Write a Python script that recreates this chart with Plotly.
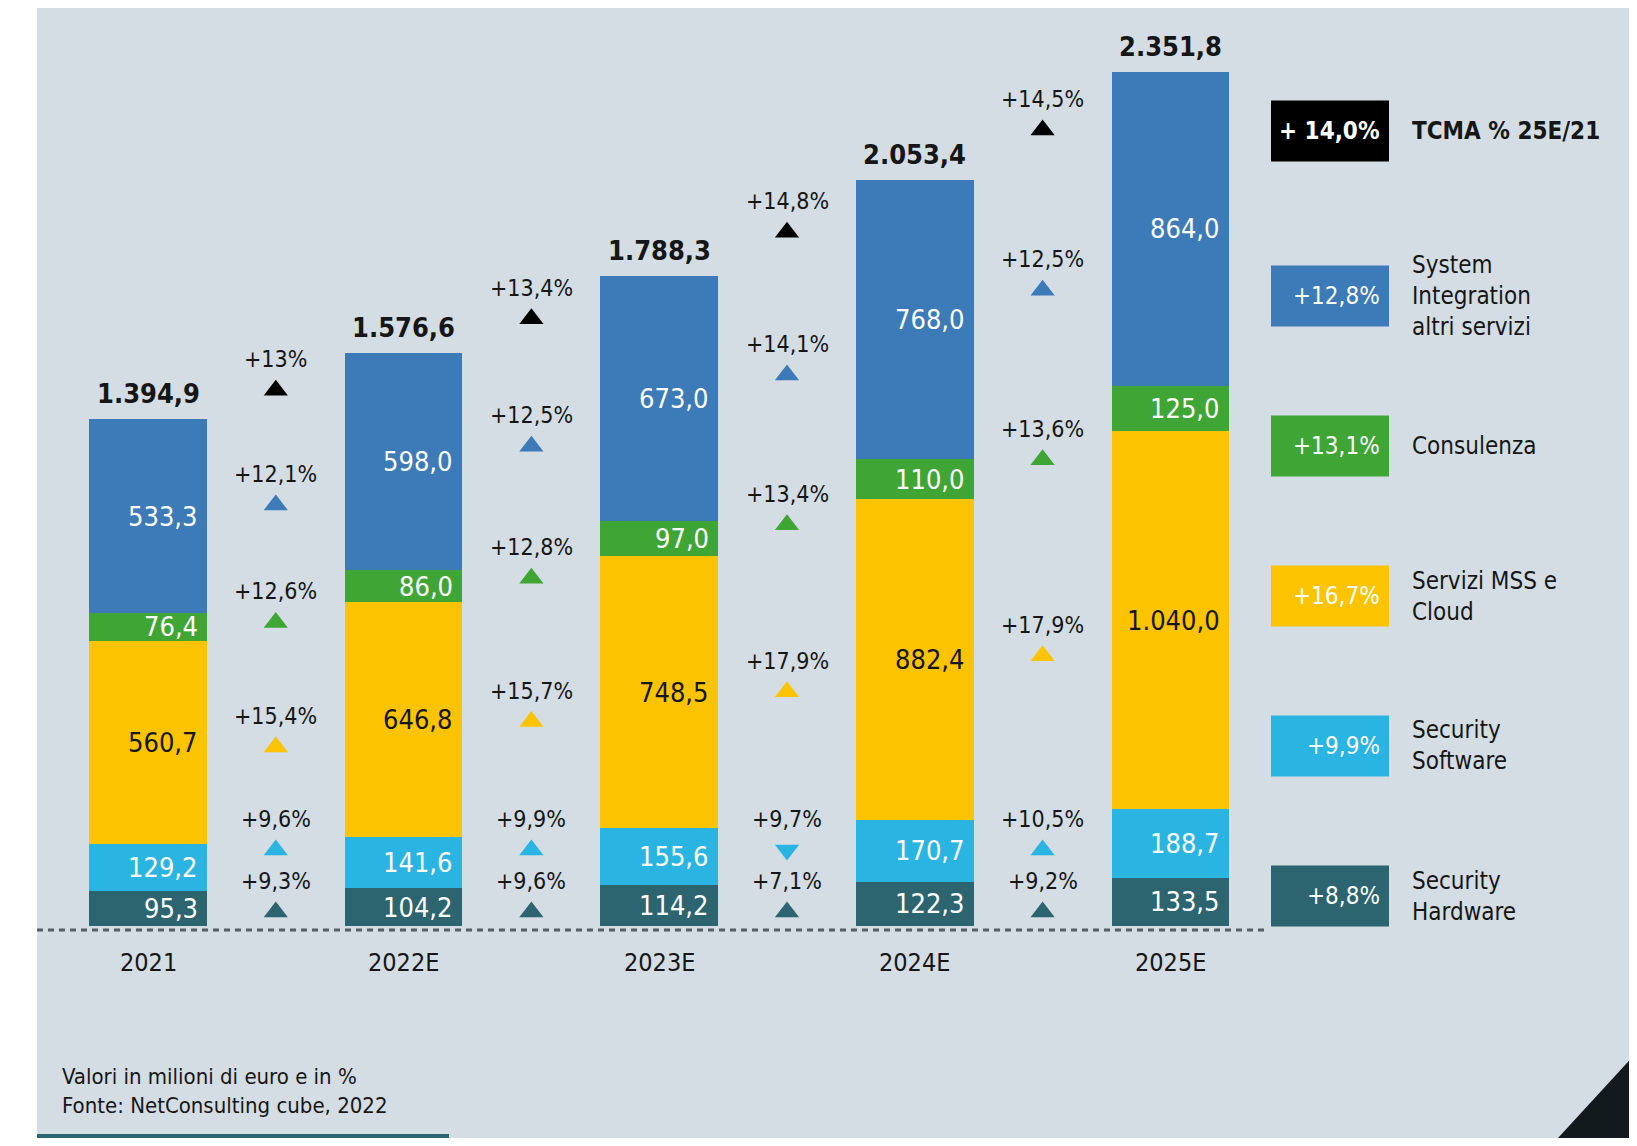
import plotly.graph_objects as go

# --- dati ---------------------------------------------------------------
anni = ["2021", "2022E", "2023E", "2024E", "2025E"]

serie = ["Security Hardware", "Security Software", "Servizi MSS e Cloud",
         "Consulenza", "System Integration altri servizi"]
etichette_legenda = ["Security<br>Hardware", "Security<br>Software",
                     "Servizi MSS e<br>Cloud", "Consulenza",
                     "System<br>Integration<br>altri servizi"]

hardware = [95.3, 104.2, 114.2, 122.3, 133.5]
software = [129.2, 141.6, 155.6, 170.7, 188.7]
mss_cloud = [560.7, 646.8, 748.5, 882.4, 1040.0]
consulenza = [76.4, 86.0, 97.0, 110.0, 125.0]
system_int = [533.3, 598.0, 673.0, 768.0, 864.0]
totali = [1394.9, 1576.6, 1788.3, 2053.4, 2351.8]

var_hardware = ["+9,3%", "+9,6%", "+7,1%", "+9,2%"]
var_software = ["+9,6%", "+9,9%", "+9,7%", "+10,5%"]
var_mss = ["+15,4%", "+15,7%", "+17,9%", "+17,9%"]
var_consulenza = ["+12,6%", "+12,8%", "+13,4%", "+13,6%"]
var_system = ["+12,1%", "+12,5%", "+14,1%", "+12,5%"]
var_totale = ["+13%", "+13,4%", "+14,8%", "+14,5%"]
dir_software = ["up", "up", "down", "up"]

tcma_serie = ["+8,8%", "+9,9%", "+16,7%", "+13,1%", "+12,8%"]
tcma_totale = "+ 14,0%"

# --- stile --------------------------------------------------------------
# la pagina html ha un margine di 8 px: la figura parte da (8, 8)
OFF = 8
FW, FH = 1637 - OFF, 1146 - 2 * OFF
FONT = "Liberation Sans Narrow, DejaVu Sans Condensed, Arial Narrow, sans-serif"
SFONDO = "#d3dde3"
NERO = "#161616"
colori = ["#2c6470", "#2ab4e2", "#fcc400", "#3fa535", "#3c7ab8"]
colori_testo = ["white", "white", NERO, "white", "white"]

BASE_PX = 926      # base delle barre (pixel di pagina)
PX = 0.3633        # pixel per milione di euro
X0_PX, PASSO_PX = 148, 255.6
LARG = 0.46

y_max = (BASE_PX - OFF) / PX
y_min = (BASE_PX - (OFF + FH)) / PX
x_min = (OFF - X0_PX) / PASSO_PX
x_max = (OFF + FW - X0_PX) / PASSO_PX


def fmt(v):
    s = f"{v:,.1f}"
    return s.replace(",", "X").replace(".", ",").replace("X", ".")


def px_to_y(p):
    return (BASE_PX - p) / PX


def y_to_px(y):
    return BASE_PX - y * PX


def xp(p):
    return (p - OFF) / FW


def yp(p):
    return 1 - (p - OFF) / FH


valori = [hardware, software, mss_cloud, consulenza, system_int]
variazioni = [var_hardware, var_software, var_mss, var_consulenza, var_system]
x = list(range(len(anni)))

fig = go.Figure()
annotazioni = []

# barre impilate
basi = [0.0] * len(anni)
medi = []
for k, nome in enumerate(serie):
    fig.add_trace(go.Bar(x=x, y=valori[k], base=basi, width=LARG, name=nome,
                         marker=dict(color=colori[k], line=dict(width=0)),
                         showlegend=False))
    medi.append([b + v / 2 for b, v in zip(basi, valori[k])])
    for i, v in enumerate(valori[k]):
        annotazioni.append(dict(
            x=i + LARG / 2, y=basi[i] + v / 2, xref="x", yref="y",
            text=fmt(v), showarrow=False, xanchor="right", yanchor="middle",
            xshift=-7, font=dict(family=FONT, size=27, color=colori_testo[k])))
    basi = [b + v for b, v in zip(basi, valori[k])]

# totali
for i, t in enumerate(totali):
    annotazioni.append(dict(
        x=i, y=basi[i], xref="x", yref="y", text=f"<b>{fmt(t)}</b>",
        showarrow=False, yanchor="bottom", yshift=8,
        font=dict(family=FONT, size=27, color=NERO)))

# variazioni annue: centro del gruppo = media dei punti medi adiacenti
centri_px = []
for k in range(len(serie)):
    riga = []
    for j in range(len(anni) - 1):
        c = y_to_px((medi[k][j] + medi[k][j + 1]) / 2)
        if k == 0:
            c = min(c, BASE_PX - 30)
        else:
            c = min(c, centri_px[k - 1][j] - 62)
        riga.append(c)
    centri_px.append(riga)

centri_tot = [(y_to_px(basi[j]) + y_to_px(basi[j + 1])) / 2 - 12
              for j in range(len(anni) - 1)]

gruppi = [(variazioni[k], centri_px[k], colori[k],
           dir_software if k == 1 else ["up"] * 4) for k in range(len(serie))]
gruppi.append((var_totale, centri_tot, "#000000", ["up"] * 4))

xm = [j + 0.5 for j in range(len(anni) - 1)]
for testi, centri, col, direzioni in gruppi:
    fig.add_trace(go.Scatter(
        x=xm, y=[px_to_y(c + 16) for c in centri], mode="markers",
        marker=dict(symbol=["triangle-up" if d == "up" else "triangle-down"
                            for d in direzioni], size=21, color=col,
                    line=dict(width=0)),
        showlegend=False, cliponaxis=False, hoverinfo="skip"))
    for j, t in enumerate(testi):
        annotazioni.append(dict(
            x=xm[j], y=px_to_y(centri[j] - 15), xref="x", yref="y", text=t,
            showarrow=False, yanchor="middle",
            font=dict(family=FONT, size=23, color=NERO)))

# anni
for i, a in enumerate(anni):
    annotazioni.append(dict(
        x=i, y=0, xref="x", yref="y", text=a, showarrow=False,
        yanchor="top", yshift=-20, font=dict(family=FONT, size=25, color=NERO)))

forme = [
    # pannello di sfondo
    dict(type="rect", xref="paper", yref="paper", x0=xp(37), x1=1,
         y0=0, y1=1, fillcolor=SFONDO, line=dict(width=0), layer="below"),
    # linea di base tratteggiata
    dict(type="line", xref="paper", yref="y", x0=xp(37), x1=xp(1266),
         y0=px_to_y(BASE_PX + 4), y1=px_to_y(BASE_PX + 4),
         line=dict(color="#555f66", width=3, dash="6px,5px")),
    # filetto in basso a sinistra
    dict(type="line", xref="paper", yref="paper", x0=xp(37), x1=xp(449),
         y0=2 / FH, y1=2 / FH, line=dict(color="#2c6470", width=4)),
    # triangolo scuro in basso a destra
    dict(type="path", xref="paper", yref="paper",
         path=f"M {xp(1558)},0 L 1,{yp(1052)} L 1,0 Z",
         fillcolor="#121a1e", line=dict(width=0)),
]

# legenda con TCMA
BX0, BX1, BH = 1271, 1389, 61


def riga_legenda(cy, colore, tcma, etichetta, grassetto=False):
    forme.append(dict(type="rect", xref="paper", yref="paper",
                      x0=xp(BX0), x1=xp(BX1),
                      y0=yp(cy + BH / 2), y1=yp(cy - BH / 2),
                      fillcolor=colore, line=dict(width=0)))
    annotazioni.append(dict(
        x=xp(BX1 - 7), y=yp(cy), xref="paper", yref="paper",
        text=f"<b>{tcma}</b>" if grassetto else tcma, showarrow=False,
        xanchor="right", yanchor="middle",
        font=dict(family=FONT, size=24, color="white")))
    annotazioni.append(dict(
        x=xp(1410), y=yp(cy), xref="paper", yref="paper",
        text=f"<b>{etichetta}</b>" if grassetto else etichetta,
        showarrow=False, xanchor="left", yanchor="middle", align="left",
        font=dict(family=FONT, size=24, color=NERO)))


riga_legenda(131, "#000000", tcma_totale, "TCMA % 25E/21", grassetto=True)
for k in range(len(serie)):
    riga_legenda(896 - 150 * k, colori[k], tcma_serie[k], etichette_legenda[k])

# note
annotazioni.append(dict(
    x=xp(60), y=yp(1091), xref="paper", yref="paper",
    text="Valori in milioni di euro e in %<br>Fonte: NetConsulting cube, 2022",
    showarrow=False, xanchor="left", yanchor="middle", align="left",
    font=dict(family=FONT, size=22, color=NERO)))

fig.update_layout(
    width=FW, height=FH, margin=dict(l=0, r=0, t=0, b=0),
    paper_bgcolor="white", plot_bgcolor="rgba(0,0,0,0)",
    barmode="overlay", bargap=0,
    xaxis=dict(range=[x_min, x_max], visible=False, fixedrange=True),
    yaxis=dict(range=[y_min, y_max], visible=False, fixedrange=True),
    shapes=forme, annotations=annotazioni, showlegend=False,
)

fig.write_html("out.html")
